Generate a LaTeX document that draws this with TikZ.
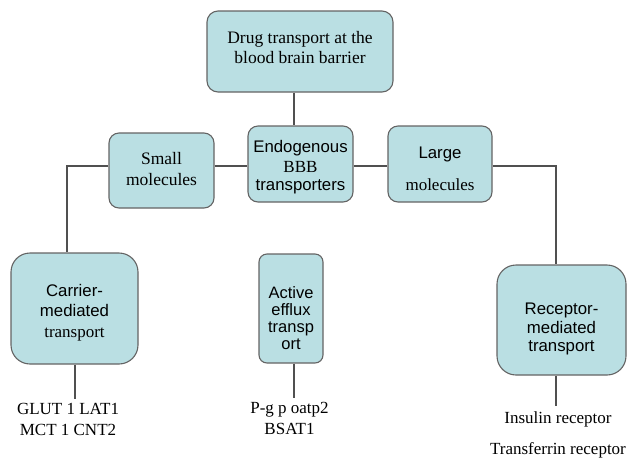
\documentclass[tikz,border=0pt]{standalone}
\usepackage{fontspec}
\setmainfont{Liberation Serif}
\setsansfont{Liberation Sans}
\definecolor{boxfill}{RGB}{186,223,227}
\definecolor{boxline}{RGB}{100,100,100}
\definecolor{connline}{RGB}{80,80,80}
\newcommand{\sfx}{\sffamily\fontsize{16.8}{20}\selectfont}
\tikzset{
  box/.style={draw=boxline, fill=boxfill, line width=1.1pt, inner sep=0pt},
  conn/.style={draw=connline, line width=1.1pt},
  txt/.style={align=center, inner sep=0pt, text=black, font=\fontsize{17}{20}\selectfont}
}
\begin{document}
\begin{tikzpicture}[x=1pt,y=-1pt]
\useasboundingbox (0,0) rectangle (627,459);
% boxes
\node[box, rounded corners=11pt, minimum width=186pt, minimum height=81pt] (top) at (300,51.5) {};
\node[box, rounded corners=10pt, minimum width=105pt, minimum height=75pt] (small) at (161.5,170.5) {};
\node[box, rounded corners=10pt, minimum width=105pt, minimum height=76pt] (endo) at (300.5,164) {};
\node[box, rounded corners=10pt, minimum width=104pt, minimum height=76pt] (large) at (440,164) {};
\node[box, rounded corners=19pt, minimum width=127pt, minimum height=111pt] (carrier) at (74.5,308.5) {};
\node[box, rounded corners=8pt, minimum width=64pt, minimum height=109pt] (active) at (291,308.5) {};
\node[box, rounded corners=19pt, minimum width=129pt, minimum height=110pt] (receptor) at (561.5,320) {};
% box texts
\node[txt, font=\fontsize{17.5}{20}\selectfont] (topT) at (300,48) {Drug transport at the\\blood brain barrier};
\node[txt, font=\fontsize{17.5}{21}\selectfont] (smallT) at (161.5,169.5) {Small\\molecules};
\node[txt] (endoT) at (300.5,167) {{\sfx Endogenous}\\BBB\\[-2pt]{\sfx transporters}};
\node[txt] (largeT) at (440,169) {{\sfx Large}\\[12pt]molecules};
\node[txt, font=\sfx\linespread{1.03}\selectfont] (carrierT) at (74.5,312.5) {Carrier-\\mediated\\{\rmfamily\fontsize{17}{20}\selectfont transport}};
\node[txt, font=\sffamily\fontsize{16.5}{17}\selectfont] (activeT) at (291,318) {Active\\efflux\\transp\\ort};
\node[txt, font=\sffamily\fontsize{16.8}{18.5}\selectfont] (receptorT) at (561.5,329) {Receptor-\\mediated\\transport};
% lower labels
\node[txt, font=\fontsize{17}{21}\selectfont, anchor=north] (glut) at (68,403) {GLUT 1 LAT1\\MCT 1 CNT2};
\node[txt, font=\fontsize{17}{21}\selectfont, anchor=north] (pgp) at (289.5,402) {P-g p oatp2\\BSAT1};
\node[txt, font=\fontsize{17}{31}\selectfont, anchor=north] (ins) at (558,411) {Insulin receptor\\Transferrin receptor};
% connectors
\coordinate (lc) at (67,166);
\coordinate (rc) at (556,166);
\draw[conn] ([xshift=-6pt]top.south) -- ([xshift=-6pt]top.south |- endo.north);
\draw[conn] (small.west |- lc) -- (lc) -- (lc |- carrier.north);
\draw[conn] (small.east |- lc) -- (endo.west |- lc);
\draw[conn] (endo.east |- lc) -- (large.west |- lc);
\draw[conn] (large.east |- rc) -- (rc) -- (rc |- receptor.north);
\draw[conn] ([xshift=0.5pt]carrier.south) -- ++(0,34);
\draw[conn] ([xshift=3pt]active.south) -- ++(0,34);
\draw[conn] ([xshift=-5.5pt]receptor.south) -- ++(0,30);
\end{tikzpicture}
\end{document}
